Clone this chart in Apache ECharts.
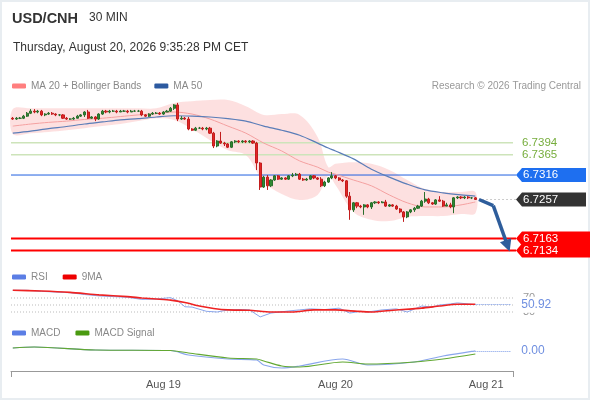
<!DOCTYPE html>
<html>
<head>
<meta charset="utf-8">
<script src="https://cdn.jsdelivr.net/npm/echarts@6/dist/echarts.min.js"></script>
<style>
html, body { margin: 0; padding: 0; background: #fff; }
#main { width: 590px; height: 400px; }
</style>
</head>
<body>
<div id="main"></div>
<script>
// 30 min candles, Aug 18 03:00 -> Aug 20 19:30, plus empty slots on the right
var cats = [];
for (var i = 0; i < 140; i++) {
	var t = new Date(Date.UTC(2026, 7, 18, 3, 0) + i * 1800000);
	cats.push(t.toISOString().slice(5, 16).replace('T', ' '));
}
var tickIdx = [42, 90, 132];
var tickLabels = ['Aug 19', 'Aug 20', 'Aug 21'];

// [open, close, low, high]
var ohlc = [
	[6.7453, 6.7451, 6.7449, 6.7456], [6.7451, 6.7453, 6.7449, 6.7456], [6.7453, 6.7453, 6.7451, 6.7456],
	[6.7453, 6.7458, 6.7451, 6.7461], [6.7458, 6.7465, 6.7456, 6.7468], [6.7465, 6.7470, 6.7463, 6.7475],
	[6.7470, 6.7468, 6.7465, 6.7475], [6.7468, 6.7470, 6.7465, 6.7473], [6.7470, 6.7461, 6.7458, 6.7473],
	[6.7461, 6.7463, 6.7458, 6.7465], [6.7463, 6.7465, 6.7461, 6.7468], [6.7465, 6.7463, 6.7461, 6.7468],
	[6.7463, 6.7461, 6.7458, 6.7465], [6.7461, 6.7461, 6.7458, 6.7463], [6.7461, 6.7453, 6.7451, 6.7463],
	[6.7453, 6.7451, 6.7449, 6.7456], [6.7451, 6.7451, 6.7449, 6.7453], [6.7451, 6.7453, 6.7449, 6.7456],
	[6.7453, 6.7458, 6.7456, 6.7461], [6.7458, 6.7461, 6.7456, 6.7463], [6.7461, 6.7468, 6.7456, 6.7470],
	[6.7468, 6.7453, 6.7451, 6.7473], [6.7453, 6.7456, 6.7451, 6.7458], [6.7456, 6.7451, 6.7446, 6.7458],
	[6.7451, 6.7463, 6.7449, 6.7465], [6.7463, 6.7470, 6.7461, 6.7473], [6.7470, 6.7468, 6.7465, 6.7473],
	[6.7468, 6.7470, 6.7465, 6.7473], [6.7470, 6.7470, 6.7468, 6.7473], [6.7470, 6.7468, 6.7465, 6.7473],
	[6.7468, 6.7470, 6.7468, 6.7473], [6.7470, 6.7470, 6.7468, 6.7473], [6.7470, 6.7468, 6.7465, 6.7473],
	[6.7468, 6.7470, 6.7468, 6.7473], [6.7470, 6.7470, 6.7468, 6.7473], [6.7470, 6.7470, 6.7468, 6.7473],
	[6.7470, 6.7461, 6.7458, 6.7473], [6.7461, 6.7458, 6.7456, 6.7463], [6.7458, 6.7463, 6.7456, 6.7465],
	[6.7463, 6.7465, 6.7461, 6.7468], [6.7465, 6.7465, 6.7463, 6.7468], [6.7465, 6.7463, 6.7461, 6.7468],
	[6.7463, 6.7468, 6.7461, 6.7470], [6.7468, 6.7470, 6.7468, 6.7473], [6.7470, 6.7477, 6.7468, 6.7480],
	[6.7477, 6.7485, 6.7473, 6.7487], [6.7485, 6.7451, 6.7446, 6.7490], [6.7451, 6.7453, 6.7449, 6.7458],
	[6.7453, 6.7451, 6.7449, 6.7456], [6.7451, 6.7427, 6.7424, 6.7456], [6.7427, 6.7424, 6.7422, 6.7429],
	[6.7424, 6.7429, 6.7422, 6.7432], [6.7429, 6.7429, 6.7427, 6.7432], [6.7429, 6.7427, 6.7424, 6.7432],
	[6.7427, 6.7429, 6.7424, 6.7432], [6.7429, 6.7417, 6.7415, 6.7432], [6.7417, 6.7386, 6.7381, 6.7420],
	[6.7386, 6.7398, 6.7383, 6.7400], [6.7398, 6.7393, 6.7391, 6.7420], [6.7393, 6.7391, 6.7386, 6.7396],
	[6.7391, 6.7383, 6.7381, 6.7393], [6.7383, 6.7396, 6.7381, 6.7398], [6.7396, 6.7398, 6.7393, 6.7400],
	[6.7398, 6.7396, 6.7393, 6.7400], [6.7396, 6.7398, 6.7393, 6.7400], [6.7398, 6.7396, 6.7393, 6.7400],
	[6.7396, 6.7398, 6.7393, 6.7400], [6.7398, 6.7393, 6.7391, 6.7400], [6.7393, 6.7345, 6.7328, 6.7396],
	[6.7345, 6.7287, 6.7280, 6.7347], [6.7287, 6.7311, 6.7285, 6.7314], [6.7311, 6.7290, 6.7280, 6.7316],
	[6.7290, 6.7304, 6.7287, 6.7306], [6.7304, 6.7314, 6.7302, 6.7316], [6.7314, 6.7306, 6.7304, 6.7316],
	[6.7306, 6.7309, 6.7304, 6.7311], [6.7309, 6.7306, 6.7304, 6.7311], [6.7306, 6.7314, 6.7304, 6.7316],
	[6.7314, 6.7316, 6.7311, 6.7321], [6.7316, 6.7318, 6.7314, 6.7321], [6.7318, 6.7306, 6.7304, 6.7321],
	[6.7306, 6.7304, 6.7302, 6.7309], [6.7304, 6.7306, 6.7302, 6.7309], [6.7306, 6.7314, 6.7304, 6.7316],
	[6.7314, 6.7309, 6.7306, 6.7316], [6.7309, 6.7306, 6.7304, 6.7311], [6.7306, 6.7290, 6.7287, 6.7311],
	[6.7290, 6.7299, 6.7287, 6.7302], [6.7299, 6.7309, 6.7297, 6.7311], [6.7309, 6.7314, 6.7306, 6.7323],
	[6.7314, 6.7309, 6.7306, 6.7316], [6.7309, 6.7304, 6.7302, 6.7311], [6.7304, 6.7302, 6.7299, 6.7306],
	[6.7302, 6.7265, 6.7261, 6.7304], [6.7265, 6.7232, 6.7208, 6.7275], [6.7232, 6.7249, 6.7227, 6.7251],
	[6.7249, 6.7241, 6.7236, 6.7251], [6.7241, 6.7239, 6.7236, 6.7244], [6.7239, 6.7244, 6.7220, 6.7246],
	[6.7244, 6.7239, 6.7236, 6.7246], [6.7239, 6.7249, 6.7234, 6.7251], [6.7249, 6.7251, 6.7246, 6.7253],
	[6.7251, 6.7249, 6.7246, 6.7253], [6.7249, 6.7251, 6.7249, 6.7253], [6.7251, 6.7241, 6.7239, 6.7256],
	[6.7241, 6.7244, 6.7239, 6.7246], [6.7244, 6.7241, 6.7239, 6.7246], [6.7241, 6.7234, 6.7232, 6.7244],
	[6.7234, 6.7227, 6.7224, 6.7236], [6.7227, 6.7215, 6.7203, 6.7229], [6.7215, 6.7227, 6.7212, 6.7229],
	[6.7227, 6.7232, 6.7224, 6.7234], [6.7232, 6.7236, 6.7227, 6.7239], [6.7236, 6.7241, 6.7234, 6.7244],
	[6.7241, 6.7253, 6.7239, 6.7256], [6.7253, 6.7258, 6.7249, 6.7275], [6.7258, 6.7249, 6.7246, 6.7261],
	[6.7249, 6.7246, 6.7244, 6.7251], [6.7246, 6.7256, 6.7244, 6.7258], [6.7256, 6.7253, 6.7251, 6.7265],
	[6.7253, 6.7241, 6.7239, 6.7256], [6.7241, 6.7244, 6.7241, 6.7249], [6.7244, 6.7239, 6.7236, 6.7249],
	[6.7239, 6.7261, 6.7224, 6.7263], [6.7261, 6.7263, 6.7258, 6.7265], [6.7263, 6.7261, 6.7258, 6.7265],
	[6.7261, 6.7263, 6.7258, 6.7265], [6.7263, 6.7261, 6.7258, 6.7265], [6.7261, 6.7261, 6.7258, 6.7263],
	[6.7261, 6.7257, 6.7256, 6.7263]
];

// moving averages and bollinger bands, read at these candle indexes
var bandIdx = [0, 5, 10, 15, 20, 25, 30, 35, 40, 45, 50, 55, 60, 65, 70, 75, 80, 85, 88, 90, 95, 100, 105, 110, 115, 120, 125, 129];
var ma20 = [6.7434, 6.7439, 6.7443, 6.7446, 6.7450, 6.7453, 6.7457, 6.7461, 6.7464, 6.7468, 6.7463, 6.7451, 6.7434, 6.7417,
	6.7393, 6.7374, 6.7350, 6.7335, 6.7323, 6.7318, 6.7304, 6.7290, 6.7268, 6.7249, 6.7239, 6.7239, 6.7244, 6.7251];
var ma50 = [6.7417, 6.7422, 6.7428, 6.7433, 6.7439, 6.7444, 6.7449, 6.7452, 6.7456, 6.7459, 6.7458, 6.7456, 6.7452, 6.7446,
	6.7434, 6.7424, 6.7412, 6.7393, 6.7381, 6.7374, 6.7355, 6.7330, 6.7311, 6.7294, 6.7280, 6.7273, 6.7268, 6.7265];
var bbUpper = [6.7475, 6.7477, 6.7477, 6.7477, 6.7477, 6.7477, 6.7477, 6.7477, 6.7477, 6.7490, 6.7494, 6.7497, 6.7497, 6.7482,
	6.7461, 6.7463, 6.7461, 6.7408, 6.7335, 6.7343, 6.7347, 6.7343, 6.7328, 6.7304, 6.7282, 6.7275, 6.7275, 6.7275];
var bbLower = [6.7415, 6.7417, 6.7420, 6.7424, 6.7429, 6.7434, 6.7439, 6.7446, 6.7453, 6.7449, 6.7427, 6.7400, 6.7376, 6.7364,
	6.7299, 6.7270, 6.7256, 6.7268, 6.7314, 6.7292, 6.7227, 6.7208, 6.7205, 6.7215, 6.7217, 6.7217, 6.7222, 6.7224];

var levelValues = [6.7394, 6.7365, 6.7316, 6.7257, 6.7163, 6.7134];
var levelKinds = ['resist', 'resist', 'pivot', 'last', 'support', 'support'];
var forecast = [[130, 6.7257], [134, 6.7242], [138, 6.7145]];

var rsiIdx = [0, 4, 8, 12, 16, 20, 24, 28, 32, 36, 40, 44, 46, 48, 50, 54, 57, 60, 64, 66, 69, 72, 77, 80, 83, 87, 91, 94, 97, 99,
	103, 107, 110, 114, 117, 119, 122, 124, 127, 129];
var rsiVals = [92, 92, 89, 87, 85, 80, 76, 74, 72, 66, 67, 71, 62, 45, 44, 32, 30, 36, 37, 36, 16, 27, 33, 36, 39, 37, 41, 27, 32, 30,
	36, 39, 30, 47, 44, 50, 53, 56, 53, 50.92];
var rsiMaIdx = [0, 8, 16, 24, 32, 36, 40, 44, 48, 52, 56, 60, 66, 72, 78, 84, 90, 96, 100, 106, 114, 119, 124, 129];
var rsiMaVals = [92, 90, 86, 79, 74, 70, 67, 64, 57, 47, 40, 36, 35, 30, 30, 36, 36, 32, 30, 35, 41, 47, 52, 52];
var rsiLevels = [70, 50, 30];

var macdIdx = [0, 6, 23, 44, 49, 60, 68, 70, 75, 80, 92, 99, 112, 120, 129];
var macdVals = [0.0003, 0.0004, 0.0001, 0.00005, -0.0004, -0.0008, -0.0009, -0.0014, -0.0017, -0.0015, -0.0008, -0.0014, -0.0011, -0.0005, 0.00001];
var sigVals = [0.0003, 0.0004, 0.0001, 0.00005, -0.0002, -0.0007, -0.0008, -0.0010, -0.0015, -0.0016, -0.0011, -0.0013, -0.0011, -0.0008, -0.0003];

function pairs(idx, vals) {
	return idx.map(function (x, k) { return [x, vals[k]]; });
}

var FONT = 'Liberation Sans, Arial, sans-serif';
var lastIdx = ohlc.length - 1;
var rsiLast = rsiVals[rsiVals.length - 1];
var macdLast = macdVals[macdVals.length - 1];

// level lines (drawn under candles) and price tags (drawn on top)
function levelItem(params, api, part) {
	var v = levelValues[params.dataIndex];
	var kind = levelKinds[params.dataIndex];
	var y = api.coord([0, v])[1];
	var cs = params.coordSys;
	var r = cs.x + cs.width;
	if (part === 'line') {
		if (kind === 'resist') {
			return { type: 'line', shape: { x1: cs.x, y1: y, x2: r, y2: y }, style: { stroke: '#cde4ba', lineWidth: 1.5 } };
		}
		if (kind === 'pivot') {
			return { type: 'line', shape: { x1: cs.x, y1: y, x2: r + 3, y2: y }, style: { stroke: '#1f5fe0', lineWidth: 1 } };
		}
		if (kind === 'support') {
			return { type: 'line', shape: { x1: cs.x, y1: y, x2: r + 3, y2: y }, style: { stroke: '#ff0000', lineWidth: 2 } };
		}
		var x0 = api.coord([lastIdx + 2, v])[0];
		return { type: 'line', shape: { x1: x0, y1: y, x2: r + 3, y2: y }, style: { stroke: '#999', lineWidth: 1, lineDash: [1, 3] } };
	}
	var txt = v.toFixed(4);
	if (kind === 'resist') {
		return { type: 'text', x: r + 9, y: y, style: { text: txt, fill: '#76ad3c', font: '11.5px ' + FONT, verticalAlign: 'middle' } };
	}
	var col = { pivot: '#1e6ff0', last: '#333333', support: '#ff0000' }[kind];
	var w = kind === 'support' ? 77 : 73;
	return {
		type: 'group', children: [
			{ type: 'polygon', shape: { points: [[r + 3, y], [r + 9, y - 7], [r + w, y - 7], [r + w, y + 7], [r + 9, y + 7]] }, style: { fill: col } },
			{ type: 'text', x: r + 10, y: y, style: { text: txt, fill: '#fff', font: '11.5px ' + FONT, verticalAlign: 'middle' } }
		]
	};
}

var myChart = echarts.init(document.getElementById('main'));
var option = {
	animation: false,
	textStyle: { fontFamily: FONT },
	graphic: [
		{ type: 'rect', silent: true, shape: { x: 1, y: 1, width: 588, height: 398 }, style: { fill: 'none', stroke: '#e8edf1', lineWidth: 2 } },
		{ type: 'text', left: 12, top: 11, style: { text: 'USD/CNH', font: 'bold 14.5px ' + FONT, fill: '#333' } },
		{ type: 'text', left: 89, top: 12, style: { text: '30 MIN', font: '12px ' + FONT, fill: '#333' } },
		{ type: 'text', left: 13, top: 42, style: { text: 'Thursday, August 20, 2026 9:35:28 PM CET', font: '12px ' + FONT, fill: '#333' } },
		{ type: 'text', right: 9, top: 81, style: { text: 'Research \u00a9 2026 Trading Central', font: '10px ' + FONT, fill: '#999' } }
	],
	legend: [
		{ left: 12, top: 81, padding: 0, itemWidth: 14, itemHeight: 5, itemGap: 13, icon: 'roundRect', selectedMode: false,
			textStyle: { color: '#888', fontSize: 10 },
			data: [{ name: 'MA 20 + Bollinger Bands', itemStyle: { color: '#ff7f7f' } }, { name: 'MA 50', itemStyle: { color: '#2c5aa0' } }] },
		{ left: 12, top: 272, padding: 0, itemWidth: 14, itemHeight: 5, itemGap: 15, icon: 'roundRect', selectedMode: false,
			textStyle: { color: '#888', fontSize: 10 },
			data: [{ name: 'RSI', itemStyle: { color: '#5b7ee5' } }, { name: '9MA', itemStyle: { color: '#ee0000' } }] },
		{ left: 12, top: 328, padding: 0, itemWidth: 14, itemHeight: 5, itemGap: 15, icon: 'roundRect', selectedMode: false,
			textStyle: { color: '#888', fontSize: 10 },
			data: [{ name: 'MACD', itemStyle: { color: '#5b7ee5' } }, { name: 'MACD Signal', itemStyle: { color: '#4a9a10' } }] }
	],
	grid: [
		{ left: 11, right: 77, top: 95, height: 170 },
		{ left: 11, right: 77, top: 285, height: 33 },
		{ left: 11, right: 77, top: 338, height: 33 }
	],
	xAxis: [
		{ type: 'category', gridIndex: 0, data: cats, show: false },
		{ type: 'category', gridIndex: 1, data: cats, show: false },
		{ type: 'category', gridIndex: 2, data: cats, position: 'bottom',
			axisLine: { onZero: false, lineStyle: { color: '#999' } },
			axisTick: { show: false },
			splitLine: { show: false },
			axisLabel: {
				interval: function (i) { return tickIdx.indexOf(i) >= 0; },
				formatter: function (v, i) { return tickLabels[tickIdx.indexOf(i)]; },
				color: '#555', fontSize: 11, margin: 8
			} },
		{ type: 'value', gridIndex: 2, position: 'bottom', min: 0, max: 1, interval: 1,
			axisLine: { show: false, onZero: false }, axisLabel: { show: false }, splitLine: { show: false },
			axisTick: { show: true, length: 6, lineStyle: { color: '#999' } } }
	],
	yAxis: [
		{ gridIndex: 0, min: 6.7099, max: 6.7509, show: false },
		{ gridIndex: 1, min: 12.86, max: 107.14, show: false },
		{ gridIndex: 2, min: -0.0020, max: 0.0013, show: false }
	],
	series: [
		{
			type: 'custom', xAxisIndex: 0, yAxisIndex: 0, silent: true, z: 1,
			data: [[0, bbUpper[0]]],
			renderItem: function (params, api) {
				var pts = [];
				for (var k = 0; k < bandIdx.length; k++) pts.push(api.coord([bandIdx[k], bbUpper[k]]));
				for (var k = bandIdx.length - 1; k >= 0; k--) pts.push(api.coord([bandIdx[k], bbLower[k]]));
				return { type: 'polygon', shape: { points: pts, smooth: 0.35 }, style: { fill: 'rgba(250,180,180,0.42)' } };
			}
		},
		{
			type: 'custom', xAxisIndex: 0, yAxisIndex: 0, silent: true, z: 2,
			data: levelValues.map(function (v) { return [0, v]; }),
			renderItem: function (params, api) { return levelItem(params, api, 'line'); }
		},
		{
			name: 'MA 20 + Bollinger Bands', type: 'line', xAxisIndex: 0, yAxisIndex: 0, z: 2,
			data: pairs(bandIdx, ma20), smooth: 0.3, showSymbol: false, silent: true,
			itemStyle: { color: '#ff7f7f' }, lineStyle: { color: '#f4a0a0', width: 1 }
		},
		{
			name: 'MA 50', type: 'line', xAxisIndex: 0, yAxisIndex: 0, z: 2,
			data: pairs(bandIdx, ma50), smooth: 0.3, showSymbol: false, silent: true,
			itemStyle: { color: '#2c5aa0' }, lineStyle: { color: '#5a7db8', width: 1.2 }
		},
		{
			type: 'candlestick', xAxisIndex: 0, yAxisIndex: 0, z: 3, barWidth: 2.6, silent: true,
			data: ohlc,
			itemStyle: { color: '#2f8a32', color0: '#e32626', borderColor: '#2a6e2c', borderColor0: '#c21d1d', borderWidth: 1 }
		},
		{
			type: 'line', xAxisIndex: 0, yAxisIndex: 0, z: 6, silent: true,
			data: forecast.slice(0, 2), showSymbol: false,
			lineStyle: { color: '#2e5d9b', width: 3.5 },
			markLine: {
				silent: true, symbol: ['none', 'triangle'], symbolSize: 12, label: { show: false },
				lineStyle: { color: '#2e5d9b', width: 3.5, type: 'solid' },
				data: [[{ coord: forecast[1] }, { coord: forecast[2] }]]
			}
		},
		{
			type: 'custom', xAxisIndex: 0, yAxisIndex: 0, z: 7, silent: true,
			data: levelValues.map(function (v) { return [0, v]; }),
			renderItem: function (params, api) { return levelItem(params, api, 'tag'); }
		},
		{
			type: 'custom', xAxisIndex: 1, yAxisIndex: 1, z: 2, silent: true,
			data: rsiLevels.map(function (v) { return [0, v]; }),
			renderItem: function (params, api) {
				var v = rsiLevels[params.dataIndex];
				var y = api.coord([0, v])[1];
				var cs = params.coordSys;
				var r = cs.x + cs.width;
				var kids = [{ type: 'line', shape: { x1: cs.x, y1: y, x2: r, y2: y }, style: { stroke: '#bbb', lineWidth: 1, lineDash: [1, 2] } }];
				if (v !== 50) kids.push({ type: 'text', x: r + 10, y: y, style: { text: String(v), fill: '#999', font: '11px ' + FONT, verticalAlign: 'middle' } });
				return { type: 'group', children: kids };
			}
		},
		{
			name: 'RSI', type: 'line', xAxisIndex: 1, yAxisIndex: 1, z: 3, silent: true,
			data: pairs(rsiIdx, rsiVals), showSymbol: false,
			itemStyle: { color: '#5b7ee5' }, lineStyle: { color: '#8aa6ec', width: 1 },
			markLine: {
				silent: true, symbol: 'none',
				data: [[{ coord: [lastIdx, rsiLast], lineStyle: { color: '#7b9be8', type: 'dotted', width: 1 },
					label: { show: true, position: 'end', formatter: rsiLast.toFixed(2), color: '#6f8fe0', fontSize: 12,
						backgroundColor: '#fff', padding: [2, 2, 2, 2], distance: 8 } },
					{ coord: [cats.length - 1, rsiLast] }]]
			}
		},
		{
			name: '9MA', type: 'line', xAxisIndex: 1, yAxisIndex: 1, z: 4, silent: true,
			data: pairs(rsiMaIdx, rsiMaVals), showSymbol: false, smooth: 0.2,
			itemStyle: { color: '#ee0000' }, lineStyle: { color: '#ee2222', width: 1.6 }
		},
		{
			name: 'MACD', type: 'line', xAxisIndex: 2, yAxisIndex: 2, z: 3, silent: true,
			data: pairs(macdIdx, macdVals), showSymbol: false, smooth: 0.3,
			itemStyle: { color: '#5b7ee5' }, lineStyle: { color: '#8aa6ec', width: 1.2 },
			markLine: {
				silent: true, symbol: 'none',
				data: [[{ coord: [lastIdx, macdLast], lineStyle: { color: '#7b9be8', type: 'dotted', width: 1 },
					label: { show: true, position: 'end', formatter: macdLast.toFixed(2), color: '#6f8fe0', fontSize: 12, distance: 10 } },
					{ coord: [cats.length - 1, macdLast] }]]
			}
		},
		{
			name: 'MACD Signal', type: 'line', xAxisIndex: 2, yAxisIndex: 2, z: 4, silent: true,
			data: pairs(macdIdx, sigVals), showSymbol: false, smooth: 0.3,
			itemStyle: { color: '#4a9a10' }, lineStyle: { color: '#62a832', width: 1.2 }
		}
	]
};
myChart.setOption(option);
</script>
</body>
</html>
